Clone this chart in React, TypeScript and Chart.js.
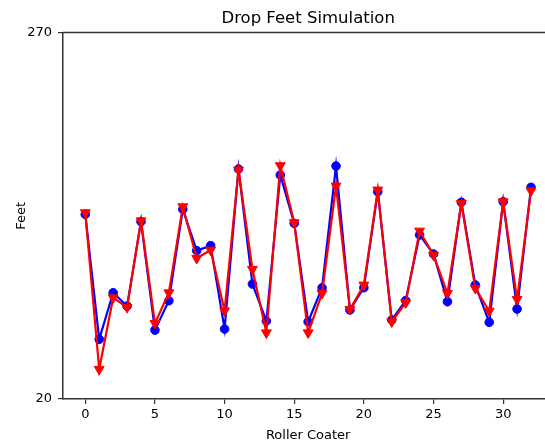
import React, { useEffect, useRef } from "react";
import { Chart, registerables } from "chart.js";

Chart.register(...registerables);

const coasterIndex = [
  0, 1, 2, 3, 4, 5, 6, 7, 8, 9, 10, 11, 12, 13, 14, 15, 16, 17, 18, 19, 20,
  21, 22, 23, 24, 25, 26, 27, 28, 29, 30, 31, 32,
];
const blueSeries = [
  146.0, 60.7, 92.5, 83.4, 141.0, 67.0, 87.0, 149.4, 121.2, 124.6, 67.7, 176.9,
  98.4, 73.2, 172.8, 139.8, 72.7, 95.9, 178.9, 80.7, 95.9, 161.4, 73.9, 87.1,
  131.9, 118.9, 86.4, 154.2, 97.8, 72.3, 154.6, 81.4, 164.4,
];
const redSeries = [
  147.1, 40.3, 89.1, 82.5, 141.6, 71.6, 92.5, 151.2, 116.0, 121.6, 80.2, 176.2,
  108.5, 65.2, 179.2, 140.3, 65.2, 92.1, 165.3, 81.2, 97.8, 162.6, 72.7, 85.7,
  134.6, 118.2, 92.1, 153.5, 95.5, 80.0, 154.6, 88.0, 162.1,
];
const xTickValues = [0, 5, 10, 15, 20, 25, 30];
const yTickValues = [20, 270];

const FONT = "'DejaVu Sans', sans-serif";
const SPINE = "#333333";

const topSpine = {
  id: "topSpine",
  afterDraw(chart: any) {
    const { ctx, chartArea } = chart;
    ctx.save();
    ctx.strokeStyle = SPINE;
    ctx.lineWidth = 1.5;
    ctx.beginPath();
    ctx.moveTo(chartArea.left, chartArea.top);
    ctx.lineTo(chartArea.right + 10, chartArea.top);
    ctx.stroke();
    ctx.restore();
  },
};

export default function App() {
  const ref = useRef<HTMLCanvasElement | null>(null);

  useEffect(() => {
    if (!ref.current) return;
    const chart = new Chart(ref.current, {
      type: "line",
      data: {
        datasets: [
          {
            data: coasterIndex.map((x, i) => ({ x, y: blueSeries[i] })),
            borderColor: "#0000ff",
            backgroundColor: "#0000ff",
            borderWidth: 2.2,
            pointStyle: "circle",
            pointRadius: 4.3,
            pointBorderWidth: 1,
            tension: 0,
            order: 2,
          },
          {
            data: coasterIndex.map((x, i) => ({ x, y: redSeries[i] })),
            borderColor: "#ff0000",
            backgroundColor: "#ff0000",
            borderWidth: 2.2,
            pointStyle: "triangle",
            rotation: 180,
            pointRadius: 5.7,
            pointBorderWidth: 1,
            tension: 0,
            order: 1,
          },
        ],
      },
      options: {
        animation: false,
        responsive: false,
        devicePixelRatio: 1,
        layout: { padding: { top: 0, left: 0, right: 5.8, bottom: 0 } },
        plugins: {
          legend: { display: false },
          tooltip: { enabled: false },
          title: {
            display: true,
            fullSize: false,
            text: "Drop Feet Simulation",
            color: "#000",
            font: { family: FONT, size: 16.5, weight: "normal", lineHeight: 1.2 },
            padding: { top: 8.7, bottom: 4 },
          },
        },
        scales: {
          x: {
            type: "linear",
            min: -1.6,
            max: 33.6,
            afterBuildTicks: (scale: any) => {
              scale.ticks = xTickValues.map((v) => ({ value: v }));
            },
            afterFit: (scale: any) => {
              scale.height = 43;
            },
            ticks: {
              color: "#000",
              font: { family: FONT, size: 13 },
              padding: 3,
              maxRotation: 0,
              autoSkip: false,
              includeBounds: false,
              callback: (v: any) => String(v),
            },
            grid: {
              display: true,
              drawOnChartArea: false,
              drawTicks: true,
              tickLength: 5,
              tickColor: SPINE,
              lineWidth: 1.2,
            },
            border: { display: true, color: SPINE, width: 1.5 },
            title: {
              display: true,
              text: "Roller Coater",
              color: "#000",
              font: { family: FONT, size: 13, lineHeight: 1 },
              padding: { top: 0, bottom: 0 },
            },
          },
          y: {
            type: "linear",
            min: 20,
            max: 270,
            afterBuildTicks: (scale: any) => {
              scale.ticks = yTickValues.map((v) => ({ value: v }));
            },
            afterFit: (scale: any) => {
              scale.width = 63;
            },
            ticks: {
              color: "#000",
              font: { family: FONT, size: 13 },
              padding: 6,
              autoSkip: false,
              includeBounds: false,
              callback: (v: any) => String(v),
            },
            grid: {
              display: true,
              drawOnChartArea: false,
              drawTicks: true,
              tickLength: 5,
              tickColor: SPINE,
              lineWidth: 1.2,
            },
            border: { display: true, color: SPINE, width: 1.5 },
            title: {
              display: true,
              text: "Feet",
              color: "#000",
              font: { family: FONT, size: 13, lineHeight: 1 },
              padding: { top: 15, bottom: 15 },
            },
          },
        },
      },
      plugins: [topSpine],
    });
    return () => chart.destroy();
  }, []);

  return (
    <div
      style={{
        position: "absolute",
        left: 0,
        top: 0,
        width: 545,
        height: 442,
        overflow: "hidden",
        background: "#fff",
      }}
    >
      <canvas ref={ref} width={560} height={442} style={{ width: 560, height: 442, display: "block" }} />
    </div>
  );
}
